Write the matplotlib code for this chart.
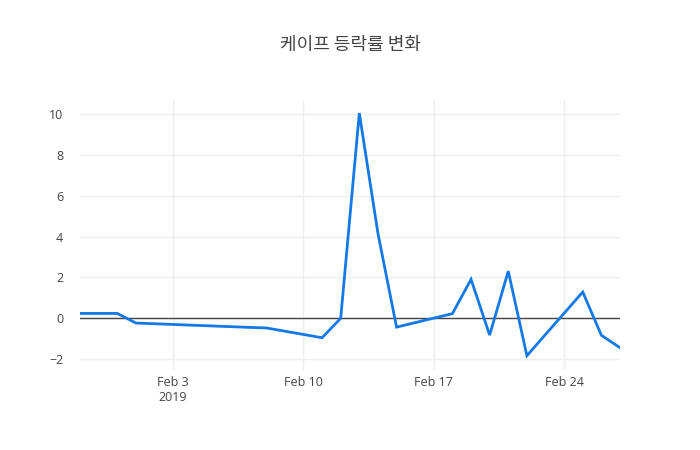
import matplotlib
matplotlib.use("Agg")
import matplotlib.pyplot as plt
import matplotlib.dates as mdates
import numpy as np
import datetime as dt

dates = ["2019-01-29", "2019-01-30", "2019-01-31", "2019-02-01", "2019-02-07",
         "2019-02-08", "2019-02-11", "2019-02-12", "2019-02-13", "2019-02-14",
         "2019-02-15", "2019-02-18", "2019-02-19", "2019-02-20", "2019-02-21",
         "2019-02-22", "2019-02-25", "2019-02-26", "2019-02-27"]
changes = [0.24, 0.24, 0.24, -0.23, -0.44,
           -0.47, -0.95, 0.0, 10.05, 4.16,
           -0.43, 0.23, 1.91, -0.82, 2.31,
           -1.83, 1.29, -0.83, -1.44]
tick_dates = ["2019-02-03", "2019-02-10", "2019-02-17", "2019-02-24"]
tick_labels = ["Feb 3\n2019", "Feb 10", "Feb 17", "Feb 24"]
y_ticks = [-2, 0, 2, 4, 6, 8, 10]
title = "케이프 등락률 변화"

x = [dt.datetime.strptime(d, "%Y-%m-%d") for d in dates]
xt = [dt.datetime.strptime(d, "%Y-%m-%d") for d in tick_dates]

plt.rcParams['font.family'] = ['Open Sans', 'Noto Sans CJK KR', 'DejaVu Sans']

fig = plt.figure(figsize=(7, 4.5), dpi=100)
ax = fig.add_axes([80/700, 1 - 370/450, 540/700, 270/450])

ax.plot(x, changes, color='#1479e4', linewidth=2, solid_joinstyle='miter', zorder=3)
ax.axhline(0, color='#444444', linewidth=1, zorder=2)

ax.set_xlim(x[0], x[-1])
ax.set_ylim(-2.53, 10.69)
ax.set_yticks(y_ticks)
ax.set_yticklabels([str(v).replace('-', '−') for v in y_ticks])
ax.set_xticks(xt)
ax.set_xticklabels(tick_labels)

ax.grid(True, color='#eeeeee', linewidth=1, zorder=0)
ax.set_axisbelow(True)
for s in ax.spines.values():
    s.set_visible(False)
ax.tick_params(axis='both', length=0, labelsize=9, labelcolor='#444444')
ax.tick_params(axis='x', pad=4)
ax.tick_params(axis='y', pad=12)
for lbl in ax.get_xticklabels():
    lbl.set_linespacing(1.25)

fig.text(0.5, 1 - 45/450, title, ha='center', va='center', fontsize=13,
         color='#444444', family=['Noto Sans CJK KR', 'DejaVu Sans'])

fig.savefig("out.png", dpi=100)
